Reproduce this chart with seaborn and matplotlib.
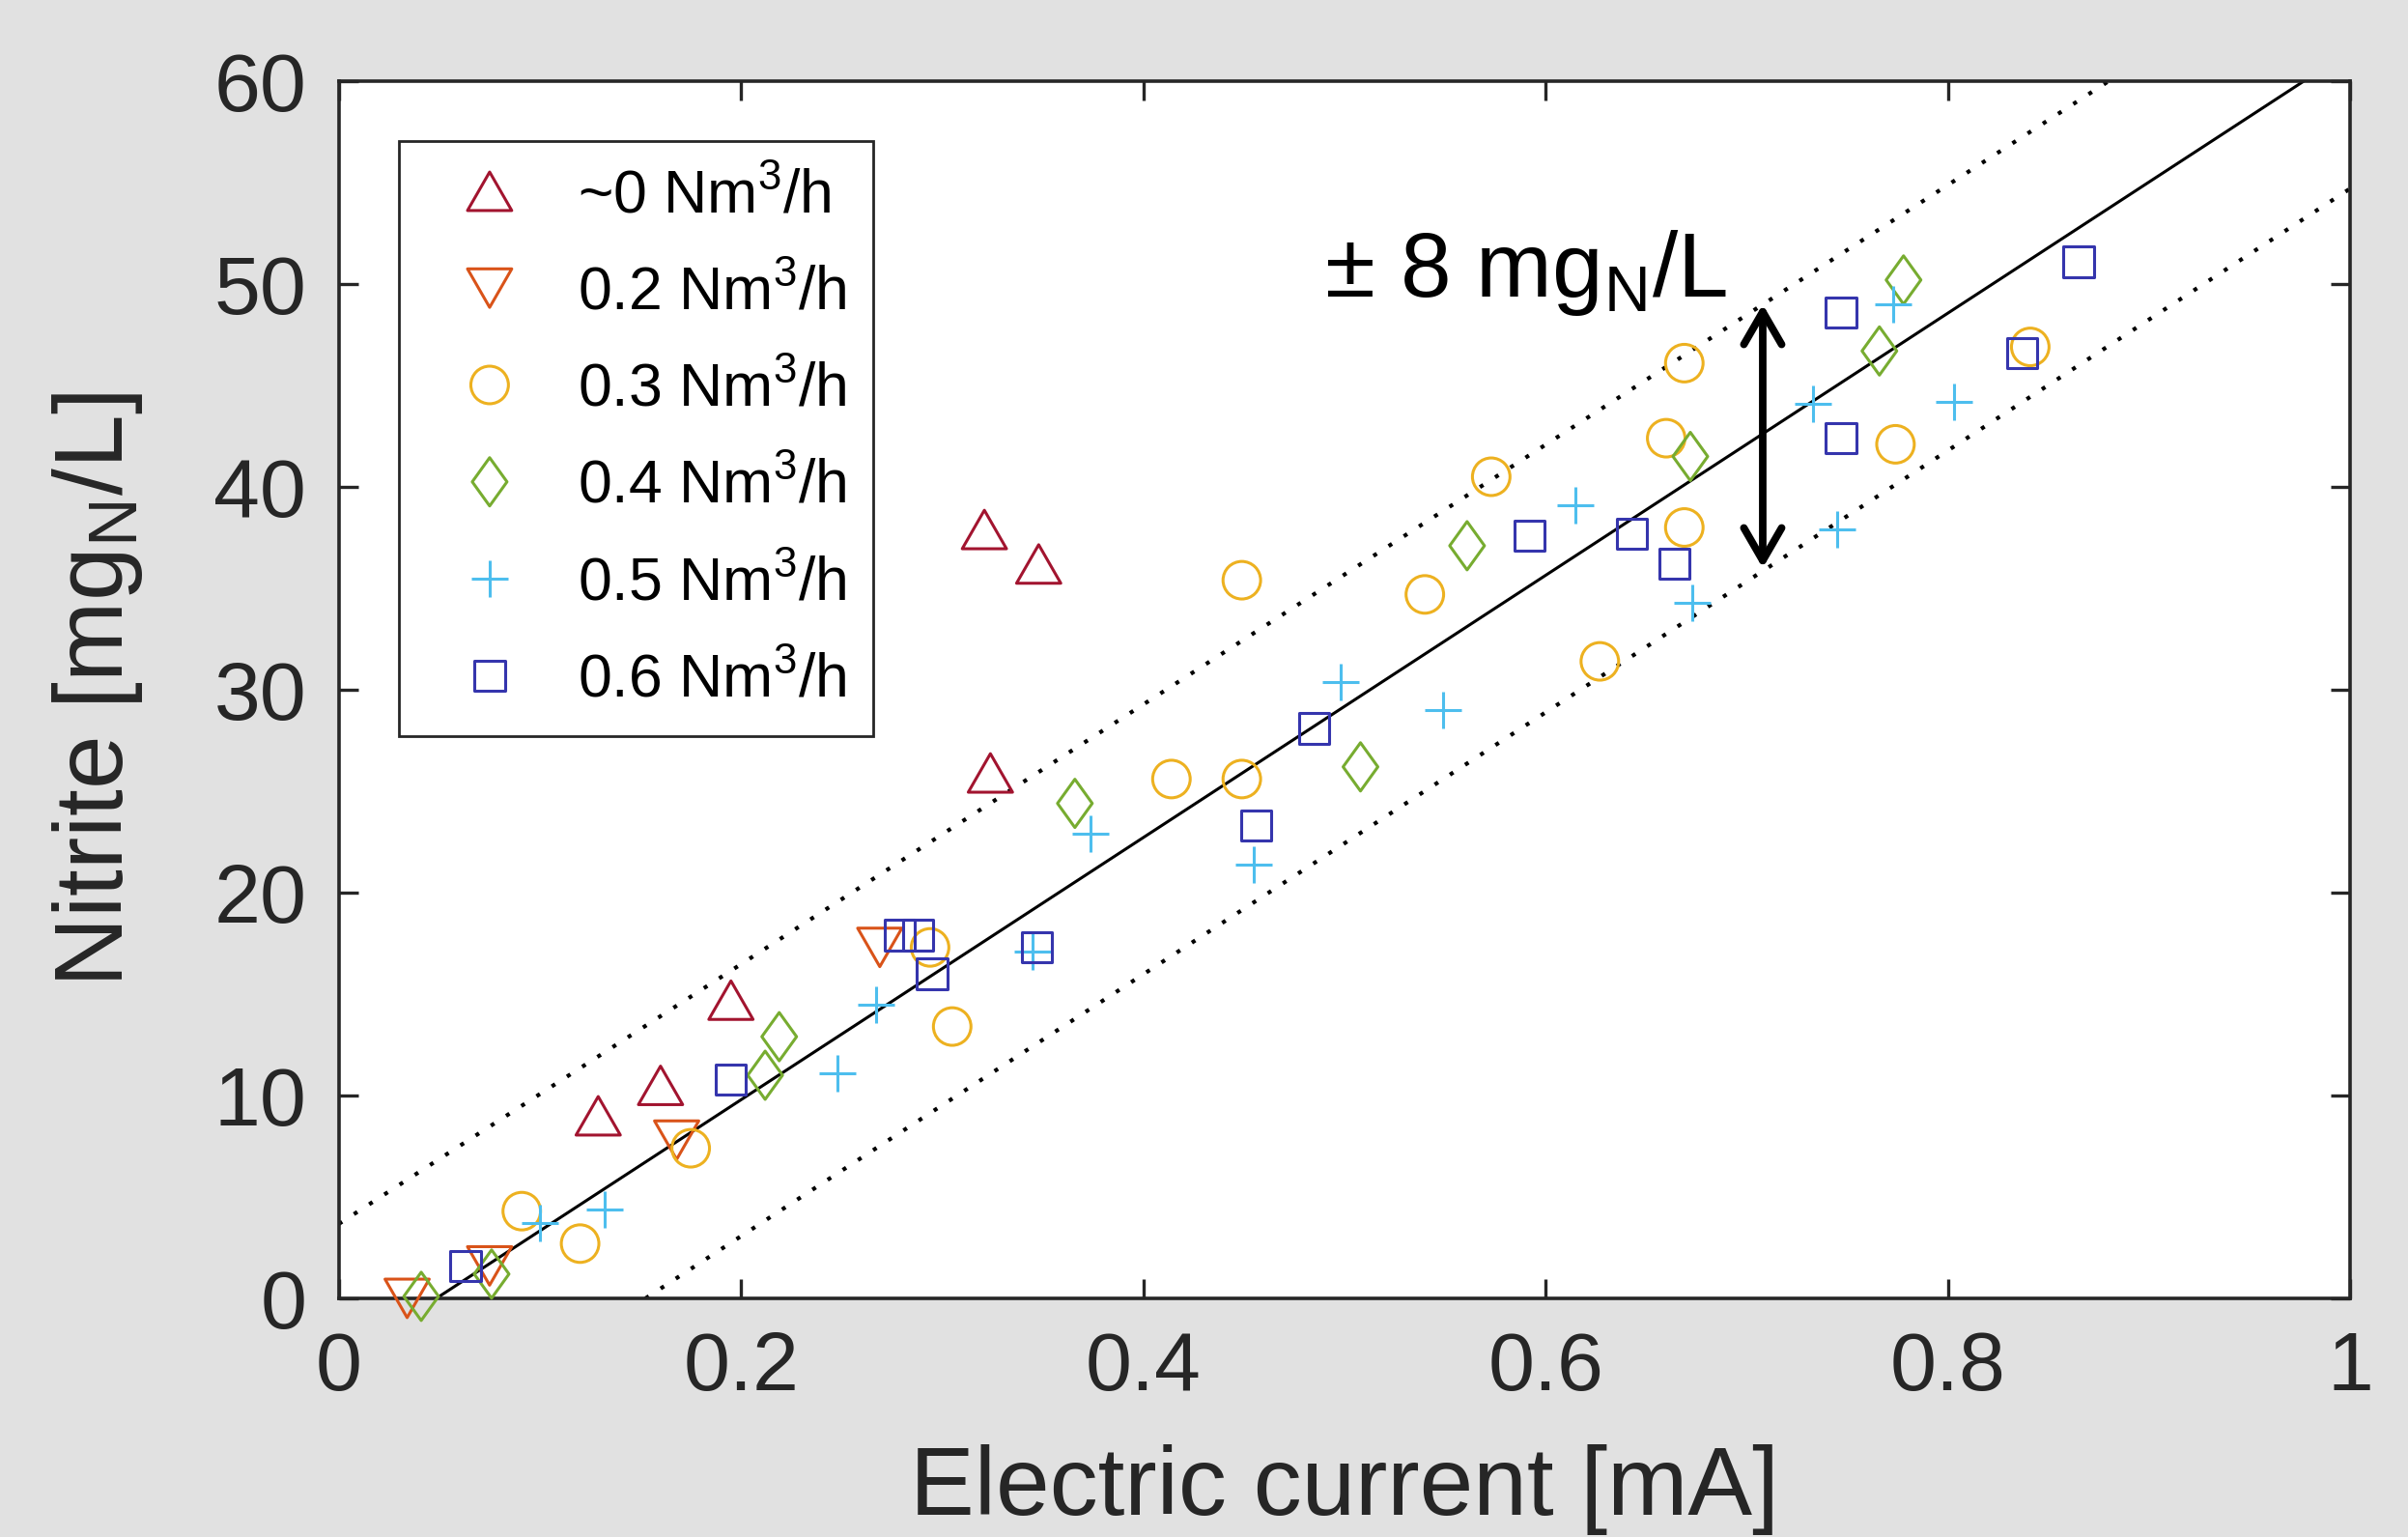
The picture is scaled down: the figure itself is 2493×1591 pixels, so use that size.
import numpy as np
import pandas as pd
import matplotlib
matplotlib.use("Agg")
import matplotlib.pyplot as plt
from matplotlib.path import Path
import seaborn as sns

# ---------------- data ----------------
labels = ["~0 Nm$^3$/h", "0.2 Nm$^3$/h", "0.3 Nm$^3$/h",
          "0.4 Nm$^3$/h", "0.5 Nm$^3$/h", "0.6 Nm$^3$/h"]

x_air0 = [0.129, 0.160, 0.195, 0.324, 0.321, 0.348]
y_air0 = [9.0, 10.5, 14.7, 25.9, 37.9, 36.2]

x_air02 = [0.034, 0.075, 0.168, 0.269]
y_air02 = [0.0, 1.6, 7.8, 17.3]

x_air03 = [0.091, 0.120, 0.175, 0.294, 0.305, 0.414, 0.449, 0.449,
           0.540, 0.573, 0.627, 0.660, 0.669, 0.669, 0.774, 0.841]
y_air03 = [4.3, 2.7, 7.4, 17.3, 13.4, 25.6, 25.6, 35.4,
           34.7, 40.5, 31.4, 42.4, 46.1, 38.0, 42.1, 46.9]

x_air04 = [0.041, 0.076, 0.212, 0.219, 0.366, 0.508, 0.561, 0.672, 0.766, 0.778]
y_air04 = [0.1, 1.2, 11.0, 12.9, 24.4, 26.2, 37.1, 41.5, 46.7, 50.2]

x_air05 = [0.100, 0.132, 0.248, 0.267, 0.345, 0.374, 0.455, 0.498,
           0.549, 0.615, 0.673, 0.733, 0.745, 0.773, 0.803]
y_air05 = [3.7, 4.4, 11.1, 14.5, 17.1, 22.9, 21.4, 30.4,
           29.0, 39.1, 34.3, 44.1, 37.9, 49.0, 44.2]

x_air06 = [0.063, 0.195, 0.279, 0.288, 0.295, 0.347, 0.456, 0.485,
           0.592, 0.643, 0.664, 0.747, 0.747, 0.837, 0.865]
y_air06 = [1.6, 10.8, 17.9, 17.9, 16.0, 17.3, 23.3, 28.1,
           37.6, 37.7, 36.2, 48.6, 42.4, 46.6, 51.1]

# regression line and +/- band (end points)
fit_x = [0.0485, 0.977]
fit_y = [0.0, 60.0]
upper_x = [0.0, 0.880]
upper_y = [3.67, 60.0]
lower_x = [0.1525, 1.0]
lower_y = [0.0, 54.7]

arrow_x = 0.708
arrow_y = [36.0, 49.0]

xticks = [0, 0.2, 0.4, 0.6, 0.8, 1.0]
xtick_labels = ["0", "0.2", "0.4", "0.6", "0.8", "1"]
yticks = [0, 10, 20, 30, 40, 50, 60]
ytick_labels = ["0", "10", "20", "30", "40", "50", "60"]

# ---------------- styles ----------------
colors = ["#A2142F", "#D95319", "#EDB120", "#77AC30", "#4DBEEE", "#3535AD"]
tri_up = Path([(0, 0.87), (-1, -0.87), (1, -0.87), (0, 0.87)], closed=True)
tri_dn = Path([(0, -0.87), (-1, 0.87), (1, 0.87), (0, -0.87)], closed=True)
diamond = Path([(0, 1), (0.72, 0), (0, -1), (-0.72, 0), (0, 1)], closed=True)
markers = [tri_up, tri_dn, "o", diamond, "+", "s"]
msizes = [16.5, 16.5, 14.0, 18.0, 13.7, 11.3]   # points

sns.set_theme(style="ticks")
plt.rcParams["font.family"] = ["Liberation Sans", "DejaVu Sans"]
plt.rcParams["mathtext.fontset"] = "custom"
plt.rcParams["mathtext.rm"] = "Liberation Sans"
plt.rcParams["mathtext.it"] = "Liberation Sans:italic"
plt.rcParams["mathtext.bf"] = "Liberation Sans:bold"
plt.rcParams["mathtext.default"] = "regular"

DPI = 200
fig = plt.figure(figsize=(2493 / DPI, 1591 / DPI), dpi=DPI)
fig.patch.set_facecolor("#e1e1e1")
ax = fig.add_axes([350.7 / 2493, (1591 - 1344) / 1591, 2082.3 / 2493, 1260 / 1591])
ax.set_facecolor("white")

dark = "#262626"

# lines
sns.lineplot(x=upper_x, y=upper_y, ax=ax, color="black", lw=1.5,
             linestyle=(0, (1, 3.5)), zorder=2)
sns.lineplot(x=lower_x, y=lower_y, ax=ax, color="black", lw=1.5,
             linestyle=(0, (1, 3.5)), zorder=2)
sns.lineplot(x=fit_x, y=fit_y, ax=ax, color="black", lw=1.1, zorder=2)

series = [(x_air0, y_air0), (x_air02, y_air02), (x_air03, y_air03),
          (x_air04, y_air04), (x_air05, y_air05), (x_air06, y_air06)]
for (xs, ys), lab, c, m, ms in zip(series, labels, colors, markers, msizes):
    df = pd.DataFrame({"x": xs, "y": ys})
    if isinstance(m, str) and m == "+":
        sns.scatterplot(data=df, x="x", y="y", ax=ax, marker=m, s=ms ** 2,
                        color=c, linewidth=1.1, label=lab, zorder=3,
                        legend=False, clip_on=False)
    else:
        sns.scatterplot(data=df, x="x", y="y", ax=ax, marker=m, s=ms ** 2,
                        color=c, facecolor="none", edgecolor=c, linewidth=1.1,
                        label=lab, zorder=3, legend=False, clip_on=False)

# double arrow
ax.annotate("", xy=(arrow_x, arrow_y[1]), xytext=(arrow_x, arrow_y[0]),
            arrowprops=dict(arrowstyle="<->,head_length=0.38,head_width=0.22",
                            lw=2.8, color="black", shrinkA=0, shrinkB=0,
                            mutation_scale=32), zorder=4)
ax.text(0.49, 49.4, r"$\pm$ 8 mg$_{N}$/L", fontsize=34, color="black",
        ha="left", va="baseline", zorder=5)

# axes
ax.set_xlim(0, 1)
ax.set_ylim(0, 60)
ax.set_xticks(xticks)
ax.set_xticklabels(xtick_labels)
ax.set_yticks(yticks)
ax.set_yticklabels(ytick_labels)
ax.tick_params(direction="in", length=7.2, width=1.2, top=True, right=True,
               labelsize=31, colors=dark)
ax.tick_params(axis="x", pad=12)
ax.tick_params(axis="y", pad=12)
for sp in ax.spines.values():
    sp.set_visible(True)
    sp.set_color(dark)
    sp.set_linewidth(1.3)

ax.set_xlabel("Electric current [mA]", fontsize=36, color=dark, va="baseline")
ax.xaxis.set_label_coords(0.5, (1344 - 1568) / 1260)
ax.set_ylabel("Nitrite [mg$_{N}$/L]", fontsize=36, color=dark, va="baseline",
              rotation_mode="anchor")
ax.yaxis.set_label_coords((127 - 350.7) / 2082.3, 0.5)

leg = ax.legend(loc="upper left", bbox_to_anchor=(0.030, 0.951),
                borderaxespad=0, fontsize=22.5, frameon=True, fancybox=False,
                framealpha=1, edgecolor=dark, facecolor="white",
                scatterpoints=1, scatteryoffsets=[0.5], borderpad=0.45,
                handlelength=2.1, handletextpad=0.4, labelspacing=0.66)
leg.get_frame().set_linewidth(1.0)
for t in leg.get_texts():
    t.set_color("black")

fig.savefig("out.png", dpi=DPI, facecolor=fig.get_facecolor())
